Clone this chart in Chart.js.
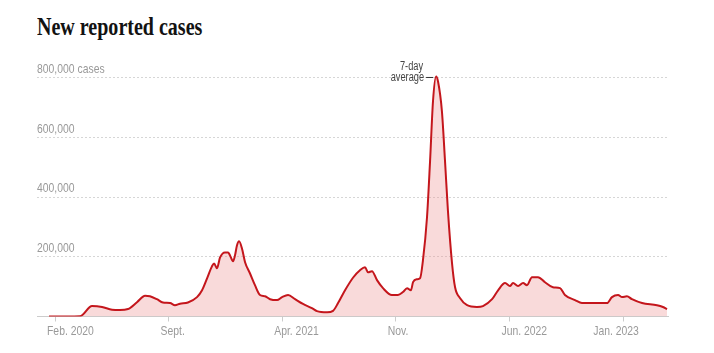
<!DOCTYPE html>
<html>
<head>
<meta charset="utf-8">
<script src="https://cdn.jsdelivr.net/npm/chart.js@4/dist/chart.umd.min.js"></script>
<style>
  html, body { margin: 0; padding: 0; background: #fff; }
  .wrap { position: relative; width: 714px; height: 353px; }
  .title {
    position: absolute; left: 37px; top: 12px; margin: 0;
    font-family: "Liberation Serif", "DejaVu Serif", serif;
    font-weight: bold; font-size: 25px; line-height: 30px;
    color: #121212; white-space: nowrap; transform-origin: left top;
  }
  canvas { position: absolute; left: 0; top: 0; }
</style>
</head>
<body>
<div class="wrap">
  <h1 class="title" id="title">New reported cases</h1>
  <canvas id="chart" width="714" height="353"></canvas>
</div>
<script>
// months since Jan 1 2020 (Feb 2020 = 1)
const months = [
  0.63, 2.54, 3.28, 3.90, 4.51, 5.00, 5.50, 6.05, 6.55, 6.85,
  7.28, 7.65, 8.09, 8.39, 8.70, 9.19, 9.75, 10.06, 10.37, 10.67,
  10.80, 10.98, 11.17, 11.47, 11.66, 11.78, 11.97, 12.09, 12.21, 12.34,
  12.52, 12.71, 13.01, 13.32, 13.63, 13.94, 14.25, 14.68, 14.99, 15.36,
  15.79, 16.28, 16.83, 17.14, 17.76, 18.13, 18.44, 18.87, 19.36, 19.79,
  20.10, 20.29, 20.53, 20.84, 21.21, 21.76, 22.13, 22.44, 22.69, 22.93,
  23.06, 23.30, 23.49, 23.67, 23.92, 24.11, 24.29, 24.48, 24.60, 24.84,
  25.03, 25.21, 25.46, 25.65, 25.95, 26.39, 27.00, 27.37, 27.93, 28.30,
  28.73, 29.03, 29.22, 29.53, 29.84, 30.08, 30.39, 30.76, 31.19, 31.68,
  32.12, 32.42, 33.04, 33.47, 34.15, 35.01, 35.32, 35.69, 35.94, 36.24,
  36.55, 37.17, 38.09, 38.46, 38.71
];
// 7-day average, thousands of cases
const casesK = [
  0, 1, 35, 32, 23, 22, 25, 48, 70, 68,
  58, 47, 45, 38, 43, 47, 65, 88, 128, 168,
  178, 162, 198, 215, 215, 205, 185, 205, 238, 252,
  228, 182, 145, 105, 72, 68, 58, 55, 65, 72,
  58, 42, 28, 18, 14, 19, 45, 88, 130, 155,
  165, 148, 152, 122, 95, 72, 72, 82, 95, 88,
  115, 125, 128, 188, 332, 522, 722, 805, 788, 688,
  522, 355, 180, 98, 62, 38, 32, 35, 58, 88,
  112, 102, 112, 102, 112, 105, 132, 132, 115, 98,
  95, 72, 55, 45, 45, 45, 65, 72, 65, 68,
  58, 45, 38, 32, 25
];
const xTickValues = [1, 8, 15, 22, 29, 36];
const xTickLabels = ["Feb. 2020", "Sept.", "Apr. 2021", "Nov.", "Jun. 2022", "Jan. 2023"];
const yTickValues = [200000, 400000, 600000, 800000];
const yTickLabels = ["200,000", "400,000", "600,000", "800,000 cases"];
const annotationLines = ["7-day", "average"];

const points = months.map((m, i) => ({ x: m, y: casesK[i] * 1000 }));

// squeeze the serif title to the condensed width of the original
const t = document.getElementById("title");
t.style.transform = "scaleX(" + (165 / t.offsetWidth) + ")";

// no condensed sans installed, so axis text is drawn squeezed
const SQUEEZE = 0.77;
function narrowText(ctx, text, x, y, align) {
  ctx.save();
  ctx.translate(x, y);
  ctx.scale(SQUEEZE, 1);
  ctx.textAlign = align;
  ctx.fillText(text, 0, 0);
  ctx.restore();
}

const axisText = {
  id: "axisText",
  afterDraw(chart) {
    const ctx = chart.ctx;
    const { x, y } = chart.scales;
    ctx.save();
    ctx.fillStyle = "#999";
    ctx.font = "13.5px 'Liberation Sans', Arial, sans-serif";
    ctx.textBaseline = "alphabetic";
    yTickValues.forEach((v, i) => {
      narrowText(ctx, yTickLabels[i], chart.chartArea.left, y.getPixelForValue(v) - 5, "left");
    });
    xTickValues.forEach((v, i) => {
      const px = x.getPixelForValue(v);
      if (i === xTickValues.length - 1) {
        narrowText(ctx, xTickLabels[i], px - 7, 335, "center");
      } else {
        narrowText(ctx, xTickLabels[i], px - 8, 335, "left");
      }
    });
    ctx.restore();
  }
};

const peakNote = {
  id: "peakNote",
  afterDatasetsDraw(chart) {
    const meta = chart.getDatasetMeta(0);
    let best = 0;
    points.forEach((p, i) => { if (p.y > points[best].y) best = i; });
    const pt = meta.data[best];
    const ctx = chart.ctx;
    ctx.save();
    ctx.strokeStyle = "#333";
    ctx.lineWidth = 1;
    ctx.beginPath();
    ctx.moveTo(pt.x - 10, pt.y + 1);
    ctx.lineTo(pt.x - 3, pt.y + 1);
    ctx.stroke();
    ctx.fillStyle = "#444";
    ctx.font = "12px 'Liberation Sans', Arial, sans-serif";
    ctx.textBaseline = "middle";
    narrowText(ctx, annotationLines[0], pt.x - 13, pt.y - 10, "right");
    narrowText(ctx, annotationLines[1], pt.x - 12, pt.y + 1, "right");
    ctx.restore();
  }
};

new Chart(document.getElementById("chart"), {
  type: "line",
  data: {
    datasets: [
      {
        data: points,
        borderColor: "#c4161c",
        backgroundColor: "rgba(238, 150, 150, 0.35)",
        borderWidth: 2,
        fill: "origin",
        pointRadius: 0,
        tension: 0.25,
        cubicInterpolationMode: "monotone",
      },
    ],
  },
  options: {
    responsive: false,
    animation: false,
    layout: { padding: { left: 37, right: 46, top: 72, bottom: 31.5 } },
    plugins: { legend: { display: false }, tooltip: { enabled: false } },
    scales: {
      x: {
        type: "linear",
        min: -0.11,
        max: 38.77,
        afterBuildTicks: (axis) => { axis.ticks = xTickValues.map((v) => ({ value: v })); },
        ticks: { display: false },
        grid: { drawOnChartArea: false, tickLength: 5, color: "#ccc" },
        border: { display: true, color: "#ccc", width: 1 },
      },
      y: {
        min: 0,
        max: 820000,
        afterBuildTicks: (axis) => { axis.ticks = yTickValues.map((v) => ({ value: v })); },
        ticks: { display: false },
        grid: { drawTicks: false, color: "#d6d6d6" },
        border: { display: false, dash: [2, 2] },
      },
    },
  },
  plugins: [peakNote, axisText],
});
</script>
</body>
</html>
